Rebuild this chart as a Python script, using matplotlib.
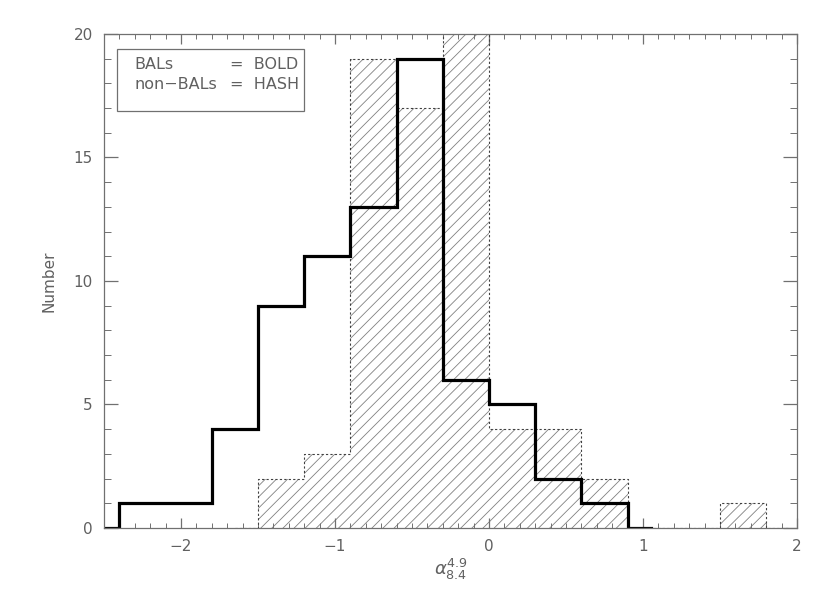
import numpy as np
import matplotlib.pyplot as plt

# bin centres (width 0.3) and counts, IDL psym=10 style
bal_x = [-2.55, -2.25, -1.95, -1.65, -1.35, -1.05, -0.75, -0.45, -0.15, 0.15, 0.45, 0.75, 1.05]
bal_n = [0, 1, 1, 4, 9, 11, 13, 19, 6, 5, 2, 1, 0]

nonbal_x = [-1.65, -1.35, -1.05, -0.75, -0.45, -0.15, 0.15, 0.45, 0.75, 1.05, 1.35, 1.65, 1.95]
nonbal_n = [0, 2, 3, 19, 17, 22, 4, 4, 2, 0, 0, 1, 0]

xticks = [-2, -1, 0, 1, 2]
yticks = [0, 5, 10, 15, 20]

grey = '#707070'
txt = '#606060'
plt.rcParams['hatch.linewidth'] = 0.6

fig = plt.figure(figsize=(8.3, 5.94), dpi=100)
ax = fig.add_axes([0.1253, 0.1111, 0.8349, 0.8317])

# hatched non-BAL histogram
ax.bar(nonbal_x, nonbal_n, width=0.3, fill=False, hatch='///',
       edgecolor='#808080', linewidth=0)
ax.plot(nonbal_x, nonbal_n, drawstyle='steps-mid', color='#404040',
        lw=0.8, dashes=(2, 2))

# bold BAL histogram
ax.plot(bal_x, bal_n, drawstyle='steps-mid', color='black', lw=2.3,
        solid_joinstyle='miter')

ax.set_xlim(-2.5, 2)
ax.set_ylim(0, 20)
ax.set_xticks(xticks)
ax.set_yticks(yticks)
ax.set_xticks(np.arange(-2.5, 2.01, 0.1), minor=True)
ax.set_yticks(np.arange(0, 21, 1), minor=True)
ax.set_xticklabels([str(t).replace('-', '\u2212') for t in xticks])
ax.tick_params(axis='both', which='both', direction='in', top=True,
               right=True, color=grey, labelcolor=txt, labelsize=11)
ax.tick_params(axis='x', which='major', length=7.5, width=0.9, pad=8)
ax.tick_params(axis='x', which='minor', length=3.7, width=0.7)
ax.tick_params(axis='y', which='major', length=10, width=0.9, pad=8)
ax.tick_params(axis='y', which='minor', length=5, width=0.7)
for s in ax.spines.values():
    s.set_color(grey)
    s.set_linewidth(0.9)

ax.set_ylabel('Number', color=txt, fontsize=11, labelpad=12)
ax.set_xlabel(r'$\alpha_{8.4}^{4.9}$', color=txt, fontsize=13, labelpad=2)

# legend box
ax.add_patch(plt.Rectangle((-2.418, 16.9), 1.215, 2.5, fill=False,
                           edgecolor=grey, lw=0.9, clip_on=False))
ax.text(-2.3, 18.75, 'BALs', color=txt, fontsize=11.5, va='center')
ax.text(-2.3, 17.95, 'non\u2212BALs', color=txt, fontsize=11.5, va='center')
ax.text(-1.68, 18.75, '=  BOLD', color=txt, fontsize=11.5, va='center')
ax.text(-1.68, 17.95, '=  HASH', color=txt, fontsize=11.5, va='center')

fig.savefig('out.png', dpi=100)
